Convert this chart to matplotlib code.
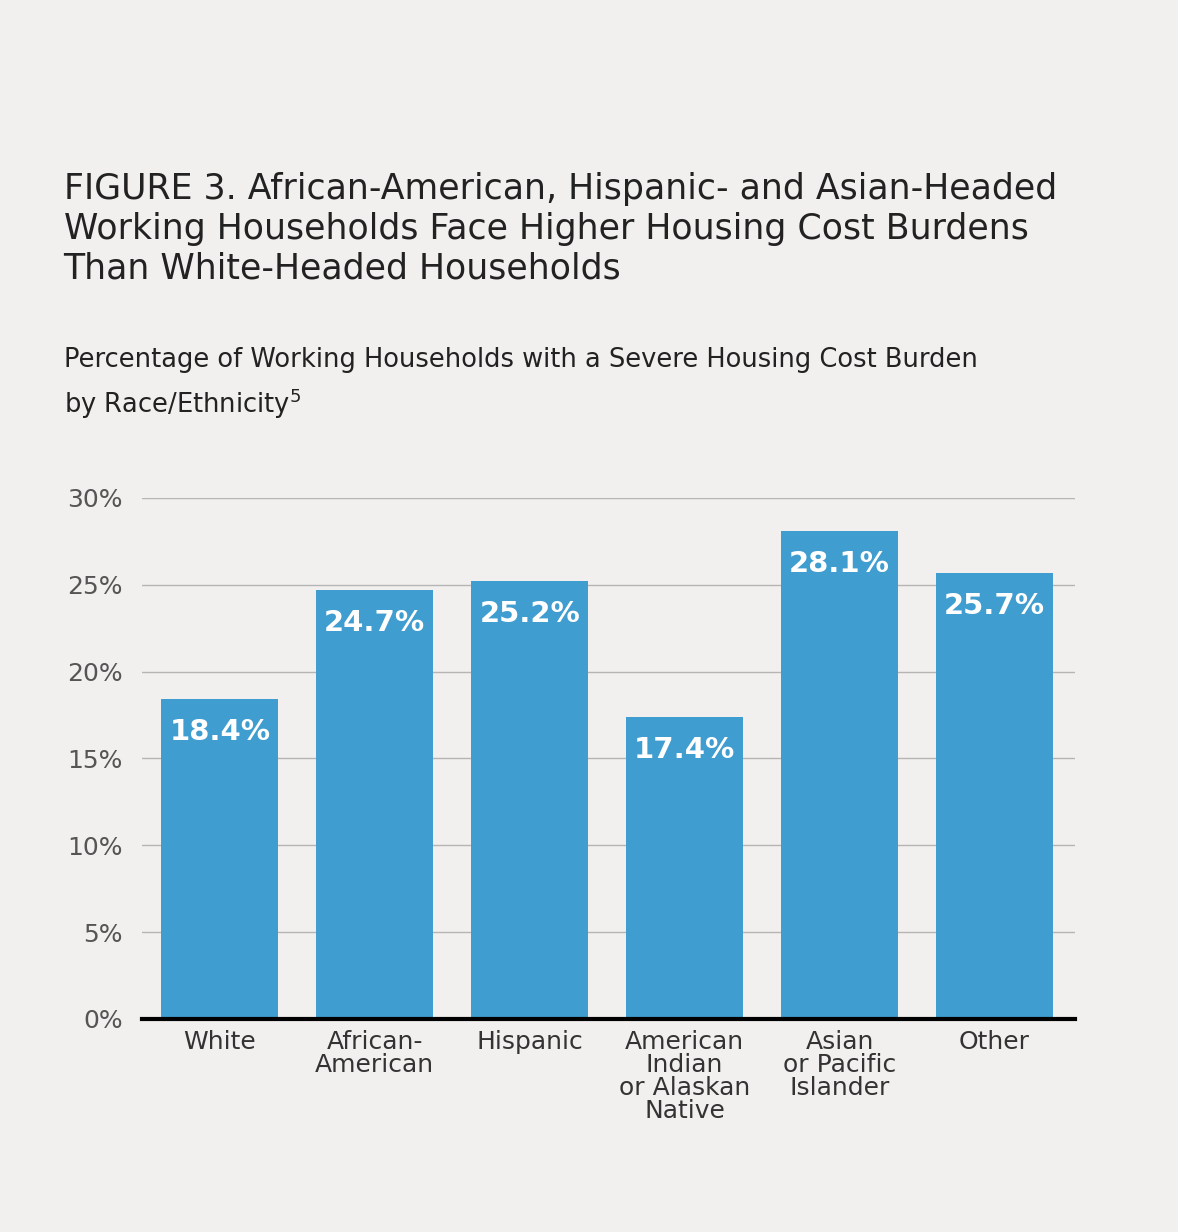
import matplotlib
matplotlib.use("Agg")
import matplotlib.pyplot as plt

categories = ["White", "African-\nAmerican", "Hispanic", "American\nIndian\nor Alaskan\nNative",
              "Asian\nor Pacific\nIslander", "Other"]
values = [18.4, 24.7, 25.2, 17.4, 28.1, 25.7]
yticks = [0, 5, 10, 15, 20, 25, 30]

bg = "#f1f0ee"
fig = plt.figure(figsize=(11.78, 12.32), dpi=100, facecolor=bg)
ax = fig.add_axes([0.1205, 0.1729, 0.7921, 0.4229], facecolor=bg)

x = range(len(values))
ax.bar(x, values, width=0.755, color="#409dcf", zorder=2)
for xi, v in zip(x, values):
    ax.text(xi, v - 1.9, f"{v}%", ha="center", va="center", color="white",
            fontsize=21, fontweight="bold", zorder=3)

ax.set_xlim(-0.503, 5.52)
ax.set_ylim(0, 30)
ax.set_yticks(yticks)
ax.set_yticklabels([f"{t}%" for t in yticks], fontsize=18, color="#555555")
ax.yaxis.grid(True, color="#b5b5b5", linewidth=1, zorder=0)
ax.tick_params(axis="y", length=0, pad=14)
ax.tick_params(axis="x", length=0, pad=8)
ax.set_xticks(list(x))
ax.set_xticklabels(categories, fontsize=18, color="#333333", linespacing=0.95, va="top")
for s in ["top", "right", "left"]:
    ax.spines[s].set_visible(False)
ax.spines["bottom"].set_linewidth(3)
ax.spines["bottom"].set_color("black")
ax.spines["bottom"].set_zorder(4)

title = ("FIGURE 3. African-American, Hispanic- and Asian-Headed\n"
         "Working Households Face Higher Housing Cost Burdens\n"
         "Than White-Headed Households")
fig.text(0.054, 0.86, title, fontsize=25, color="#222222", va="top", linespacing=1.2)
fig.text(0.054, 0.718, "Percentage of Working Households with a Severe Housing Cost Burden\n"
         "by Race/Ethnicity$^5$", fontsize=18.5, color="#222222", va="top", linespacing=1.5)

fig.savefig("out.png", dpi=100, facecolor=bg)
